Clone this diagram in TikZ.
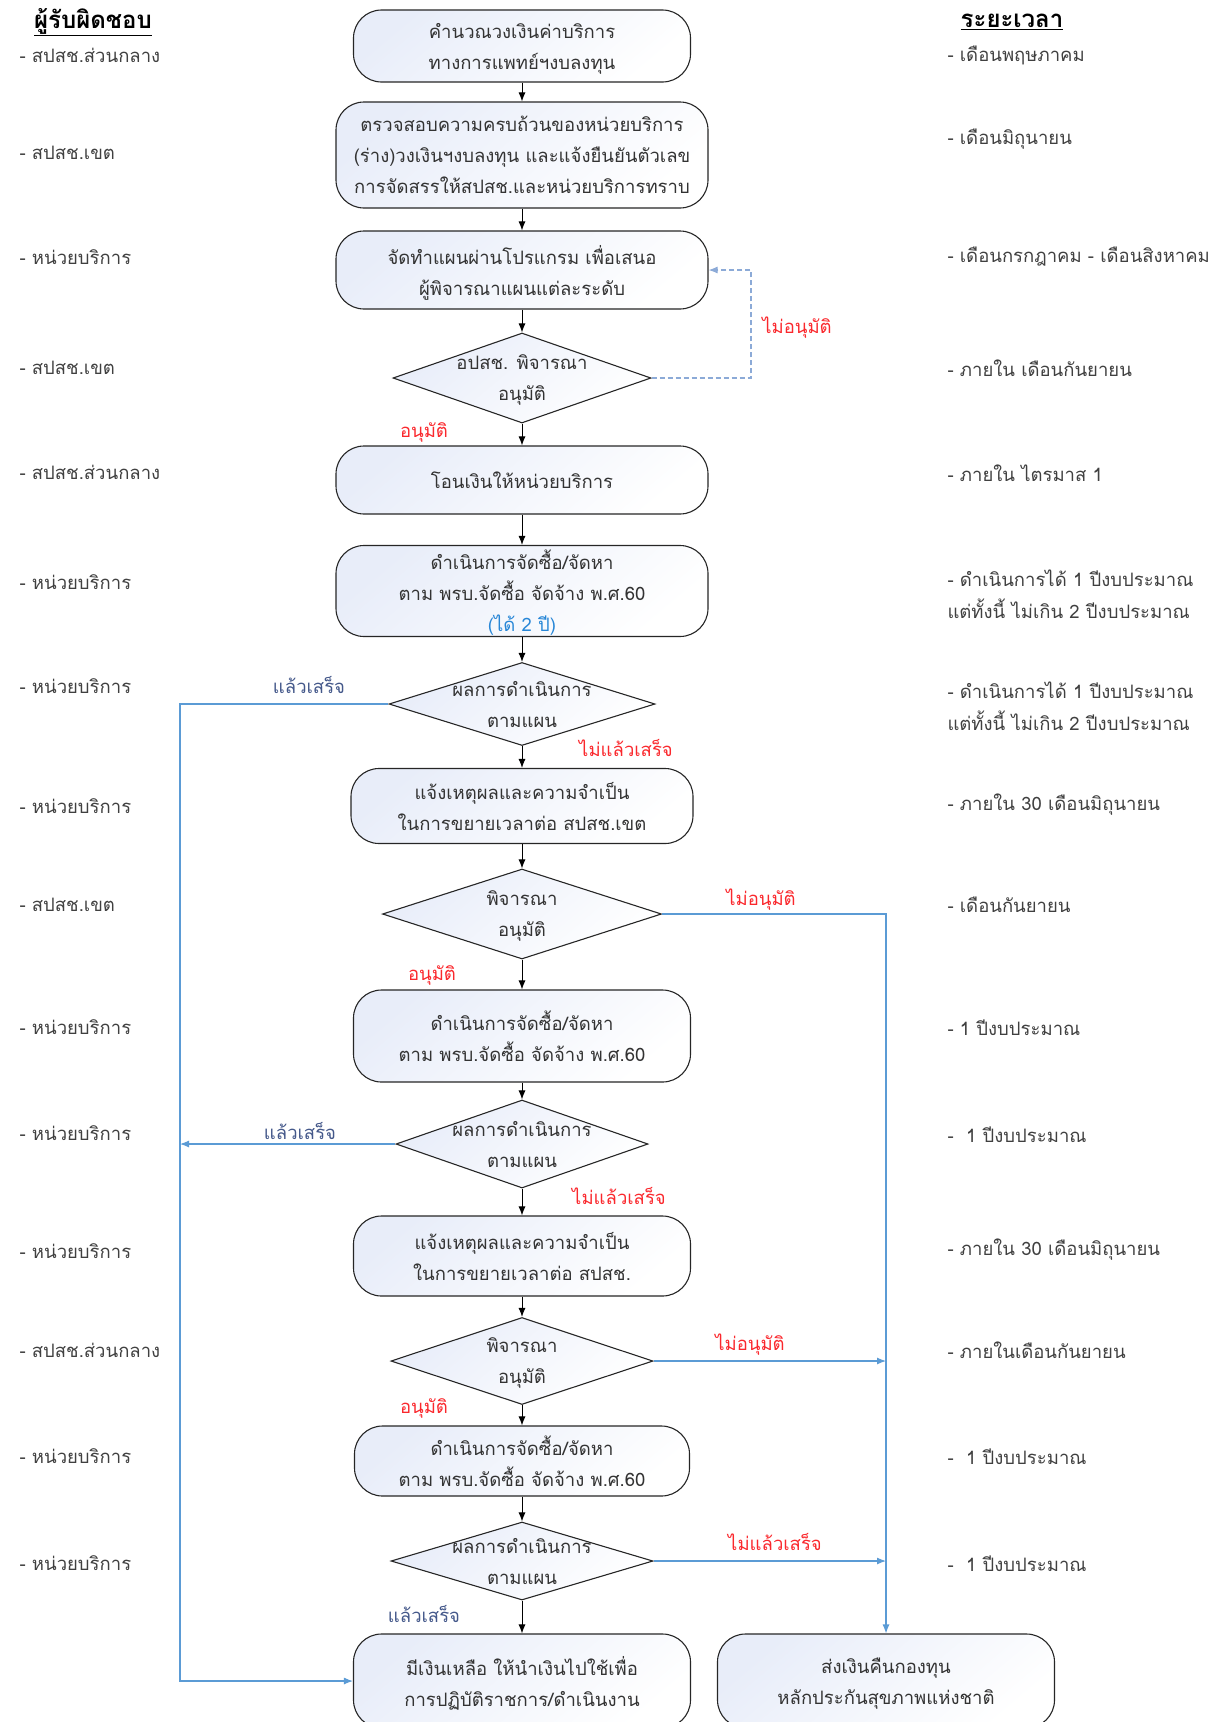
\documentclass[tikz,border=0pt]{standalone}
\usepackage{fontspec}
\setmainfont[Script=Thai]{Loma}
\usetikzlibrary{shapes.geometric,arrows.meta,positioning}

\definecolor{boxtop}{RGB}{232,237,249}
\definecolor{txtgray}{RGB}{64,64,64}
\definecolor{doneblue}{RGB}{68,88,138}
\definecolor{linkblue}{RGB}{91,155,213}
\definecolor{dashblue}{RGB}{140,170,215}
\definecolor{nored}{RGB}{250,40,45}
\definecolor{yrblue}{RGB}{40,135,215}

\tikzset{
  proc/.style={draw=black!85,line width=1.1pt,rounded corners=28pt,align=center,
    top color=boxtop,bottom color=white,shading angle=40,text=black!80,
    font=\fontsize{18.5}{31}\selectfont,inner sep=0pt,text depth=0pt},
  decision/.style={diamond,draw=black!85,line width=1.1pt,
    top color=boxtop,bottom color=white,shading angle=40,inner sep=0pt},
  dtext/.style={align=center,text=black!80,font=\fontsize{18.5}{31}\selectfont,text depth=0pt},
  side/.style={anchor=west,text=txtgray,font=\fontsize{18.5}{32}\selectfont,align=left},
  head/.style={text=black,font=\bfseries\fontsize{24}{28}\selectfont},
  note/.style={font=\fontsize{18.5}{24}\selectfont},
  arr/.style={-{Latex[length=9pt,width=7pt]},line width=1pt},
  link/.style={linkblue,line width=1.1pt},
}

\begin{document}
\begin{tikzpicture}[x=1pt,y=-1pt]

\useasboundingbox (0,0) rectangle (1218,1722);

% headers
\node[head] (hwho) at (93,22) {\underline{ผู้รับผิดชอบ}};
\node[head] (hwhen) at (1012,22) {\underline{ระยะเวลา}};

% flow boxes
\node[proc,minimum width=337,minimum height=72] (b1) at (522,46) {คำนวณวงเงินค่าบริการ\\ทางการแพทย์ฯงบลงทุน};
\node[proc,minimum width=372,minimum height=106] (b2) at (522,155) {ตรวจสอบความครบถ้วนของหน่วยบริการ\\(ร่าง)วงเงินฯงบลงทุน และแจ้งยืนยันตัวเลข\\การจัดสรรให้สปสช.และหน่วยบริการทราบ};
\node[proc,minimum width=372,minimum height=78] (b3) at (522,270) {จัดทำแผนผ่านโปรแกรม เพื่อเสนอ\\ผู้พิจารณาแผนแต่ละระดับ};
\node[decision,minimum width=258,minimum height=90] (d1) at (522,378) {};
\node[dtext] (d1t) at (d1) {อปสช. พิจารณา\\อนุมัติ};
\node[proc,minimum width=372,minimum height=68] (b4) at (522,480) {โอนเงินให้หน่วยบริการ};
\node[proc,minimum width=372,minimum height=91] (b5) at (522,591) {ดำเนินการจัดซื้อ/จัดหา\\ตาม พรบ.จัดซื้อ จัดจ้าง พ.ศ.60\\{\color{yrblue}(ได้ 2 ปี)}};
\node[decision,minimum width=266,minimum height=83] (d2) at (522,704) {};
\node[dtext] (d2t) at (d2) {ผลการดำเนินการ\\ตามแผน};
\node[proc,minimum width=342,minimum height=75] (b6) at (522,806) {แจ้งเหตุผลและความจำเป็น\\ในการขยายเวลาต่อ สปสช.เขต};
\node[decision,minimum width=279,minimum height=90] (d3) at (522,914) {};
\node[dtext] (d3t) at (d3) {พิจารณา\\อนุมัติ};
\node[proc,minimum width=337,minimum height=92] (b7) at (522,1036) {ดำเนินการจัดซื้อ/จัดหา\\ตาม พรบ.จัดซื้อ จัดจ้าง พ.ศ.60};
\node[decision,minimum width=252,minimum height=88] (d4) at (522,1144) {};
\node[dtext] (d4t) at (d4) {ผลการดำเนินการ\\ตามแผน};
\node[proc,minimum width=337,minimum height=80] (b8) at (522,1256) {แจ้งเหตุผลและความจำเป็น\\ในการขยายเวลาต่อ สปสช.};
\node[decision,minimum width=262,minimum height=87] (d5) at (522,1361) {};
\node[dtext] (d5t) at (d5) {พิจารณา\\อนุมัติ};
\node[proc,minimum width=335,minimum height=70] (b9) at (522,1461) {ดำเนินการจัดซื้อ/จัดหา\\ตาม พรบ.จัดซื้อ จัดจ้าง พ.ศ.60};
\node[decision,minimum width=262,minimum height=78] (d6) at (522,1561) {};
\node[dtext] (d6t) at (d6) {ผลการดำเนินการ\\ตามแผน};
\node[proc,minimum width=337,minimum height=94] (b10) at (522,1681) {มีเงินเหลือ ให้นำเงินไปใช้เพื่อ\\การปฏิบัติราชการ/ดำเนินงาน};
\node[proc,minimum width=337,minimum height=94] (b11) at (886,1681) {ส่งเงินคืนกองทุน\\หลักประกันสุขภาพแห่งชาติ};

% main arrows
\draw[arr] (b1) -- (b2);
\draw[arr] (b2) -- (b3);
\draw[arr] (b3) -- (d1);
\draw[arr] (d1) -- (b4);
\draw[arr] (b4) -- (b5);
\draw[arr] (b5) -- (d2);
\draw[arr] (d2) -- (b6);
\draw[arr] (b6) -- (d3);
\draw[arr] (d3) -- (b7);
\draw[arr] (b7) -- (d4);
\draw[arr] (d4) -- (b8);
\draw[arr] (b8) -- (d5);
\draw[arr] (d5) -- (b9);
\draw[arr] (b9) -- (d6);
\draw[arr] (d6) -- (b10);

% side branches
\coordinate (back) at (751,270);
\coordinate (lft) at (180,704);
\coordinate (rgt) at (886,914);
\draw[dashblue,line width=1.1pt,dash pattern=on 5pt off 3pt,-{Latex[length=9pt,width=7pt]}] (d1.east) -| (back) -- (b3.east);
\draw[link,-{Latex[length=9pt,width=7pt]}] (d2.west) -- (lft) |- (b10.west);
\draw[link,-{Latex[length=9pt,width=7pt]}] (d4.west) -- (d4.west -| lft);
\draw[link,-{Latex[length=9pt,width=7pt]}] (d3.east) -- (rgt) -- (b11.north);
\draw[link,-{Latex[length=9pt,width=7pt]}] (d5.east) -- (d5.east -| rgt);
\draw[link,-{Latex[length=9pt,width=7pt]}] (d6.east) -- (d6.east -| rgt);

% branch labels
\node[note,nored] (n1) at (797,328) {ไม่อนุมัติ};
\node[note,nored] (y1) at (424,432) {อนุมัติ};
\node[note,doneblue] (k1) at (309,685) {แล้วเสร็จ};
\node[note,nored] (m1) at (626,748) {ไม่แล้วเสร็จ};
\node[note,nored] (n2) at (761,900) {ไม่อนุมัติ};
\node[note,nored] (y2) at (432,975) {อนุมัติ};
\node[note,doneblue] (k2) at (300,1131) {แล้วเสร็จ};
\node[note,nored] (m2) at (619,1196) {ไม่แล้วเสร็จ};
\node[note,nored] (n3) at (750,1345) {ไม่อนุมัติ};
\node[note,nored] (y3) at (424,1408) {อนุมัติ};
\node[note,nored] (m3) at (775,1542) {ไม่แล้วเสร็จ};
\node[note,doneblue] (k3) at (424,1614) {แล้วเสร็จ};

% who
\foreach \y/\t [count=\i] in {55/สปสช.ส่วนกลาง,153/สปสช.เขต,257/หน่วยบริการ,368/สปสช.เขต,
  472/สปสช.ส่วนกลาง,582/หน่วยบริการ,686/หน่วยบริการ,806/หน่วยบริการ,905/สปสช.เขต,
  1027/หน่วยบริการ,1133/หน่วยบริการ,1251/หน่วยบริการ,1350/สปสช.ส่วนกลาง,1456/หน่วยบริการ,1563/หน่วยบริการ}
  \node[side] (who\i) at (16,\y) {- \t};

% when
\node[side] (when1) at (944,55) {- เดือนพฤษภาคม};
\node[side] (when2) at (944,139) {- เดือนมิถุนายน};
\node[side] (when3) at (944,257) {- เดือนกรกฎาคม - เดือนสิงหาคม};
\node[side] (when4) at (944,368) {- ภายใน เดือนกันยายน};
\node[side] (when5) at (944,473) {- ภายใน ไตรมาส 1};
\node[side] (when6) at (944,594) {- ดำเนินการได้ 1 ปีงบประมาณ\\แต่ทั้งนี้ ไม่เกิน 2 ปีงบประมาณ};
\node[side] (when7) at (944,706) {- ดำเนินการได้ 1 ปีงบประมาณ\\แต่ทั้งนี้ ไม่เกิน 2 ปีงบประมาณ};
\node[side] (when8) at (944,805) {- ภายใน 30 เดือนมิถุนายน};
\node[side] (when9) at (944,905) {- เดือนกันยายน};
\node[side] (when10) at (944,1028) {- 1 ปีงบประมาณ};
\node[side] (when11) at (944,1135) {-~~1 ปีงบประมาณ};
\node[side] (when12) at (944,1250) {- ภายใน 30 เดือนมิถุนายน};
\node[side] (when13) at (944,1350) {- ภายในเดือนกันยายน};
\node[side] (when14) at (944,1457) {-~~1 ปีงบประมาณ};
\node[side] (when15) at (944,1564) {-~~1 ปีงบประมาณ};

\end{tikzpicture}
\end{document}
